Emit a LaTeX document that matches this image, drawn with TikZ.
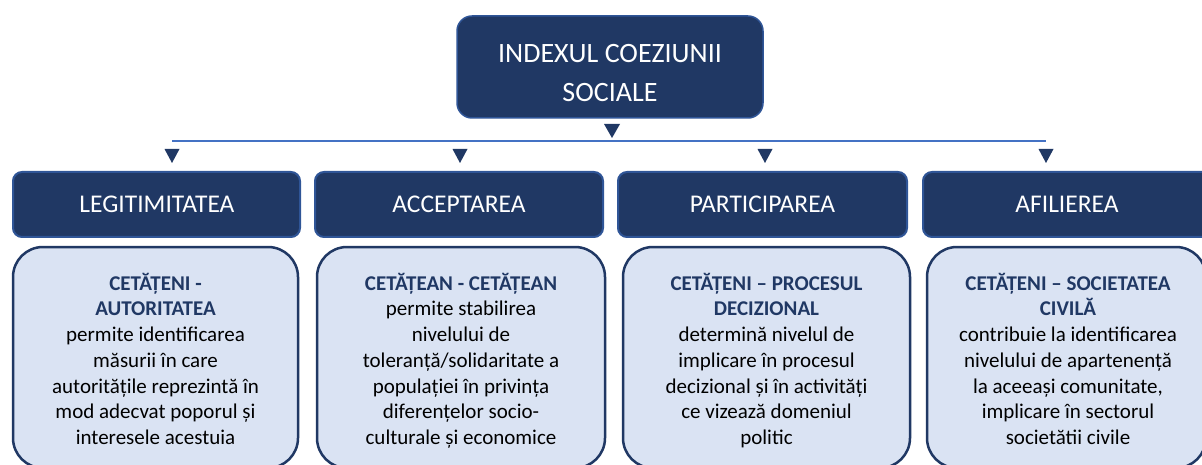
\documentclass[tikz,border=0pt]{standalone}
\usepackage{fontspec}
\setmainfont{Carlito}
\usetikzlibrary{calc}
\definecolor{navy}{HTML}{203864}
\definecolor{edgeblue}{HTML}{2F5597}
\definecolor{paleblue}{HTML}{DAE3F3}
\definecolor{lineblue}{HTML}{4472C4}
\newcommand{\firstline}[1]{\rule{0pt}{#1}}
\newcommand{\ttl}[1]{\textcolor{navy}{\bfseries #1}}
\begin{document}
\begin{tikzpicture}[x=1pt,y=-1pt,
  topbox/.style={draw=edgeblue, line width=1.5pt, fill=navy, rounded corners=15pt,
    minimum width=306pt, minimum height=102pt, inner sep=0pt},
  toptext/.style={text=white, align=center, inner sep=0pt, anchor=north,
    font=\fontsize{28}{39}\selectfont},
  headbox/.style={draw=edgeblue, line width=2pt, fill=navy, rounded corners=9pt,
    minimum height=65pt, inner sep=0pt},
  headtext/.style={text=white, inner sep=0pt, anchor=base,
    font=\fontsize{25.5}{30}\selectfont},
  descbox/.style={draw=navy, line width=2.5pt, fill=paleblue, rounded corners=30pt,
    minimum height=221pt, inner sep=0pt},
  desctext/.style={align=center, inner sep=0pt, anchor=north, text=black,
    font=\fontsize{21}{25.7}\selectfont},
  marker/.style={fill=navy},
  bar/.style={draw=lineblue, line width=1.3pt}
]
\useasboundingbox (0,0) rectangle (1202,465);
\clip (0,0) rectangle (1202,465);

% top box
\node[topbox] (top) at (610,67) {};
\node[toptext] (toplbl) at (610,32) {\firstline{30pt}INDEXUL COEZIUNII\\SOCIALE};

% connector bar and markers
\coordinate (mt) at (612,124);
\fill[marker] ($(mt)+(-8,0)$) -- ($(mt)+(8,0)$) -- ($(mt)+(0,14)$) -- cycle;
\coordinate (hl) at (172,141);
\coordinate (hr) at (1046,141);
\draw[bar] (hl) -- (hr);
\foreach \n/\x in {1/172,2/460,3/765,4/1046}{
  \coordinate (m\n) at (\x,149);
  \fill[marker] ($(m\n)+(-7.5,0)$) -- ($(m\n)+(7.5,0)$) -- ($(m\n)+(0,14)$) -- cycle;
}

% header boxes
\node[headbox, minimum width=287pt] (h1) at (156.5,204.5) {};
\node[headbox, minimum width=288pt] (h2) at (459,204.5) {};
\node[headbox, minimum width=289pt] (h3) at (762.5,204.5) {};
\node[headbox, minimum width=288pt] (h4) at (1067,204.5) {};
\node[headtext] (h1t) at (157,213) {LEGITIMITATEA};
\node[headtext] (h2t) at (459,213) {ACCEPTAREA};
\node[headtext] (h3t) at (762.5,213) {PARTICIPAREA};
\node[headtext] (h4t) at (1067,213) {AFILIEREA};

% description boxes
\node[descbox, minimum width=285pt] (d1) at (155.5,357.5) {};
\node[descbox, minimum width=288pt] (d2) at (461,357.5) {};
\node[descbox, minimum width=287pt] (d3) at (766.5,357.5) {};
\node[descbox, minimum width=279pt] (d4) at (1066.5,357.5) {};

\node[desctext] (d1t) at (155.5,270) {\firstline{20pt}\ttl{CETĂȚENI -}\\\ttl{AUTORITATEA}\\
permite identificarea\\măsurii în care\\autoritățile reprezintă în\\mod adecvat poporul și\\interesele acestuia};
\node[desctext] (d2t) at (461,270) {\firstline{20pt}\ttl{CETĂȚEAN - CETĂȚEAN}\\
permite stabilirea\\nivelului de\\toleranță/solidaritate a\\populației în privința\\diferențelor socio-\\culturale și economice};
\node[desctext] (d3t) at (766.5,270) {\firstline{20pt}\ttl{CETĂȚENI – PROCESUL}\\\ttl{DECIZIONAL}\\
determină nivelul de\\implicare în procesul\\decizional și în activități\\ce vizează domeniul\\politic};
\node[desctext] (d4t) at (1068,270) {\firstline{20pt}\ttl{CETĂȚENI – SOCIETATEA}\\\ttl{CIVILĂ}\\
contribuie la identificarea\\nivelului de apartenență\\la aceeași comunitate,\\implicare în sectorul\\societătii civile};
\end{tikzpicture}
\end{document}
